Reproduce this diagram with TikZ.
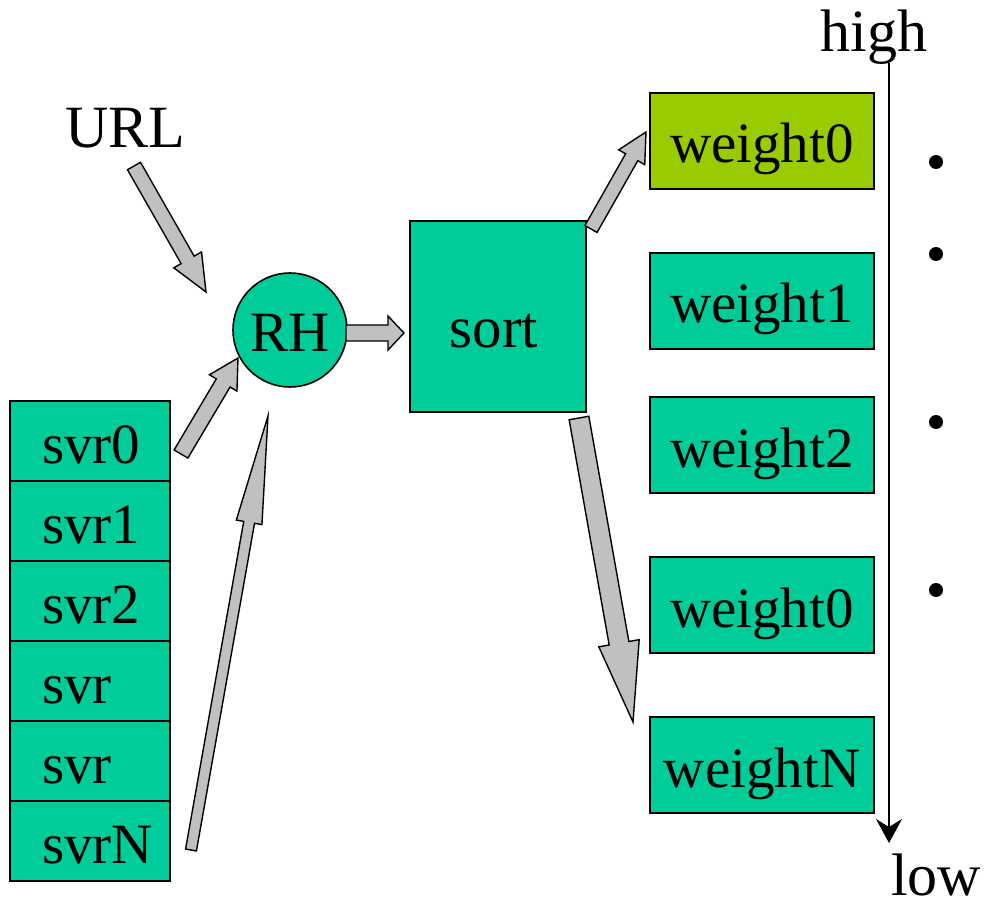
\documentclass[tikz,border=0pt]{standalone}
\usepackage{fontspec}
\setmainfont{Liberation Serif}
\usetikzlibrary{calc,arrows.meta}
\definecolor{boxgreen}{HTML}{00CC99}
\definecolor{topgreen}{HTML}{99CC00}
\definecolor{arrowgray}{HTML}{C0C0C0}

% Block arrow: #1 tail, #2 tip, #3 shaft half width, #4 head half width, #5 head length
\newcommand{\blockarrow}[5]{%
  \coordinate (ba) at ($(#2)!#5!(#1)$);
  \draw[fatarrow] ($(#1)!#3!90:(#2)$) -- ($(ba)!#3!90:(#2)$) -- ($(ba)!#4!90:(#2)$) -- (#2)
    -- ($(ba)!#4!-90:(#2)$) -- ($(ba)!#3!-90:(#2)$) -- ($(#1)!#3!-90:(#2)$) -- cycle;}

\begin{document}
\begin{tikzpicture}[x=1pt,y=-1pt,
  bigtext/.style={font=\fontsize{57}{60}\selectfont},
  labeltext/.style={font=\fontsize{60}{64}\selectfont, inner sep=0pt},
  box/.style={draw, line width=1.6pt, fill=boxgreen, bigtext,
    text height=44pt, text depth=0pt, inner sep=0pt},
  svrbox/.style={box, minimum height=80pt, text width=96pt, align=left, inner xsep=32pt},
  weightbox/.style={box, minimum width=224pt, minimum height=96pt},
  fatarrow/.style={draw, line width=1.4pt, fill=arrowgray, line join=miter}]

\useasboundingbox (0,0) rectangle (986,904);

% server list
\node[svrbox] (svr0) at (90,441) {svr0};
\node[svrbox] (svr1) at (90,521) {svr1};
\node[svrbox] (svr2) at (90,601) {svr2};
\node[svrbox] (svr3) at (90,681) {svr};
\node[svrbox] (svr4) at (90,761) {svr};
\node[svrbox] (svrN) at (90,841) {svrN};

% hashing and sorting
\node[box, circle, minimum size=114pt] (rh) at (290,330) {RH};
\node[box, minimum width=176pt, minimum height=191pt, text height=62pt,
      font=\fontsize{59}{62}\selectfont] (sort) at (498,316.5) {sort\hspace*{8pt}};

% weights
\node[weightbox, fill=topgreen] (w0) at (762,141) {weight0};
\node[weightbox] (w1) at (762,301) {weight1};
\node[weightbox] (w2) at (762,445) {weight2};
\node[weightbox] (w3) at (762,605) {weight0};
\node[weightbox] (wN) at (762,765) {weightN};

% labels
\node[labeltext, anchor=base] (url) at (125,148) {URL};
\node[labeltext, anchor=base] (high) at (874,52) {high};
\node[labeltext, anchor=base, text depth=0pt] (low) at (936,895) {low};

% priority axis
\coordinate (axtop) at (889,63);
\coordinate (axbot) at (889,843);
\draw[line width=1.6pt, -{Stealth[length=24pt, width=26pt, inset=8pt]}] (axtop) -- (axbot);
\foreach \yy in {162,254,422,590}
  \fill (936,\yy) circle (7pt);

% block arrows
\coordinate (urlT) at (134,166);  \coordinate (urlH) at (206,292);
\coordinate (s0T)  at (181,454);  \coordinate (s0H)  at (238,358);
\coordinate (sNT)  at (191,850);  \coordinate (sNH)  at (268,416);
\coordinate (rsT)  at (346,333);  \coordinate (rsH)  at (404,333);
\coordinate (w0T)  at (591,229);  \coordinate (w0H)  at (646,132);
\coordinate (wNT)  at (579,418);  \coordinate (wNH)  at (633,722);

\blockarrow{urlT}{urlH}{7.5pt}{16pt}{37pt}
\blockarrow{s0T}{s0H}{8pt}{16pt}{29pt}
\blockarrow{sNT}{sNH}{5.5pt}{13pt}{108pt}
\blockarrow{rsT}{rsH}{8pt}{17pt}{16pt}
\blockarrow{w0T}{w0H}{7pt}{15pt}{29pt}
\blockarrow{wNT}{wNH}{10pt}{20.5pt}{80pt}
\end{tikzpicture}
\end{document}
